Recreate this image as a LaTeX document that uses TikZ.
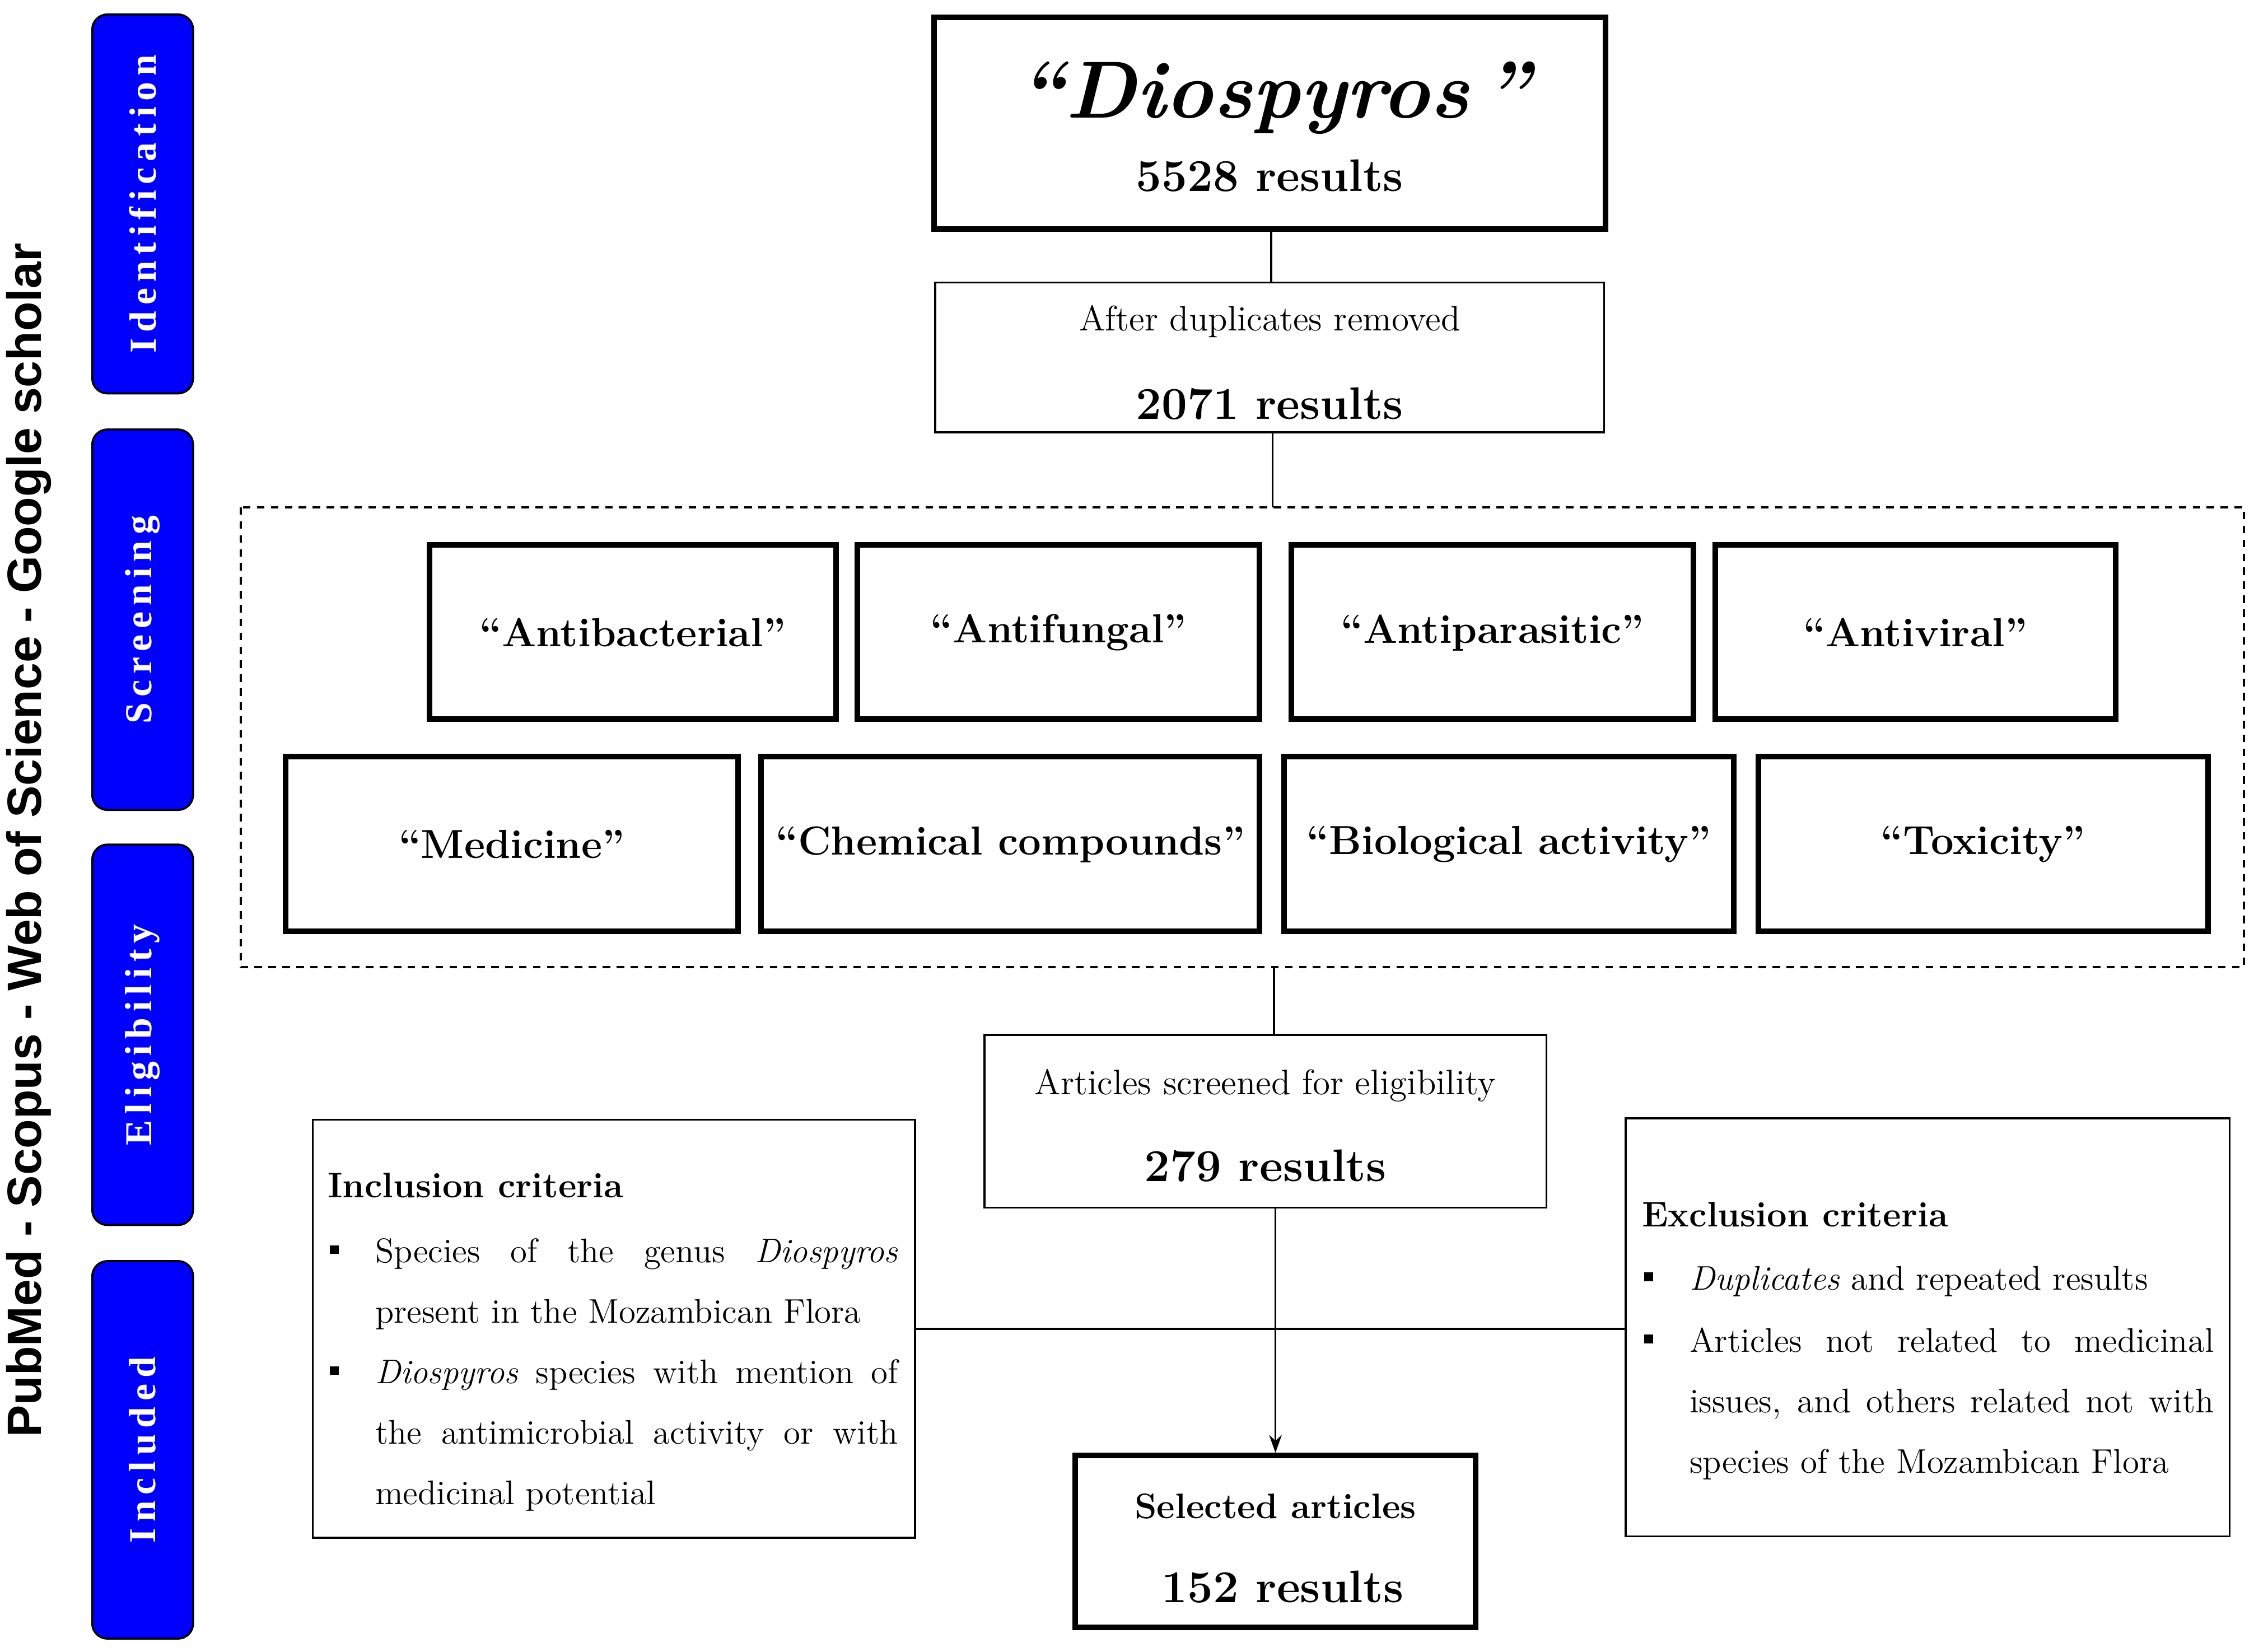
\documentclass[tikz,border=0pt]{standalone}
\usepackage{fontspec}
\usetikzlibrary{arrows.meta}
\newfontfamily\sans{Liberation Sans}
\newfontfamily\tabfont{Liberation Serif}[LetterSpace=16]
\begin{document}
\begin{tikzpicture}[x=0.02cm,y=-0.02cm,
  thick box/.style={draw,line width=2.2pt},
  thin box/.style={draw,line width=0.8pt},
  tab/.style={draw,line width=0.8pt,fill=blue,rounded corners=6pt},
  tabtxt/.style={rotate=90,text=white,font=\tabfont\fontsize{15}{18}\selectfont\bfseries},
  lbl/.style={font=\fontsize{16}{19}\selectfont\bfseries},
  body/.style={font=\fontsize{13.5}{16}\selectfont,anchor=base west,inner sep=0},
  res/.style={font=\fontsize{18}{21}\selectfont\bfseries},
  conn/.style={line width=0.8pt}]
\useasboundingbox (0,0) rectangle (1564,1146);
% side tabs
\foreach \a/\b/\t/\n in {10/273/Identification/t1,298/562/Screening/t2,586/850/Eligibility/t3,875/1137/Included/t4}{
  \draw[tab] (64,\a) rectangle (134,\b);
  \node[tabtxt] (\n) at (99,{(\a+\b)/2}) {\t};
}
\node[rotate=90,font=\fontsize{19}{22}\selectfont\sans\bfseries] (src) at (20,583) {PubMed - Scopus - Web of Science - Google scholar};
% top
\draw[thick box] (648,12) rectangle (1114,159);
\node[font=\fontsize{32}{36}\selectfont\bfseries\itshape] (dio) at (884,68) {“Diospyros\,”};
\node[res] (r1) at (881,122) {5528 results};
\coordinate (tb) at (882,159);
\draw[thin box] (649,196) rectangle (1113,300);
\coordinate (b2t) at (882,196); \coordinate (b2b) at (883,300);
\node[font=\fontsize{14}{16}\selectfont] (dup) at (881,223) {After duplicates removed};
\node[res] (r2) at (881,280) {2071 results};
\draw[conn] (tb) -- (b2t);
\coordinate (dt) at (883,352); \coordinate (db) at (884,671);
\draw[conn] (b2b) -- (dt);
\draw[line width=0.8pt,dash pattern=on 3pt off 2.5pt] (167,352) rectangle (1557,671);
% row 1
\foreach \x/\X/\t/\n in {298/580/“Antibacterial”/k1,595/874/“Antifungal”/k2,896/1175/“Antiparasitic”/k3,1190/1468/“Antiviral”/k4}{
  \draw[thick box] (\x,378) rectangle (\X,499);
  \node[lbl] (\n) at ({(\x+\X)/2},439) {\t};
}
\foreach \x/\X/\t/\n in {198/512/“Medicine”/m1,528/874/“Chemical compounds”/m2,891/1203/“Biological activity”/m3,1220/1532/“Toxicity”/m4}{
  \draw[thick box] (\x,525) rectangle (\X,646);
  \node[lbl] (\n) at ({(\x+\X)/2},586) {\t};
}
% eligibility
\draw[thin box] (683,718) rectangle (1073,838);
\coordinate (et) at (884,718); \coordinate (eb) at (885,838);
\draw[conn] (db) -- (et);
\node[font=\fontsize{14}{16}\selectfont] (asc) at (878,753) {Articles screened for eligibility};
\node[res] (r3) at (878,809) {279 results};
% selected
\draw[thick box] (746,1010) rectangle (1024,1129);
\coordinate (st) at (885,1008);
\node[font=\fontsize{14}{17}\selectfont\bfseries] (sel) at (885,1045) {Selected articles};
\node[res] (r4) at (890,1101) {152 results};
\draw[conn,-{Stealth[length=7pt,width=5pt]}] (eb) -- (st);
% criteria
\draw[thin box] (217,777) rectangle (635,1067);
\draw[thin box] (1128,776) rectangle (1547,1066);
\coordinate (il) at (635,922); \coordinate (ir) at (1128,922);
\draw[conn] (il) -- (ir);
\node[body,font=\fontsize{14}{17}\selectfont\bfseries] (inc) at (227,831) {Inclusion criteria};
\node[body] (i1) at (260,876) {\makebox[7.26cm][s]{Species of the genus \textit{Diospyros}}};
\node[body] (i2) at (260,918) {present in the Mozambican Flora};
\node[body] (i3) at (260,960) {\makebox[7.26cm][s]{\textit{Diospyros} species with mention of}};
\node[body] (i4) at (260,1002) {\makebox[7.26cm][s]{the antimicrobial activity or with}};
\node[body] (i5) at (260,1044) {medicinal potential};
\fill (229,864) rectangle +(6,6);
\fill (229,948) rectangle +(6,6);
\node[body,font=\fontsize{14}{17}\selectfont\bfseries] (exc) at (1139,851) {Exclusion criteria};
\node[body] (e1) at (1172,895) {\textit{Duplicates} and repeated results};
\node[body] (e2) at (1172,938) {\makebox[7.28cm][s]{Articles not related to medicinal}};
\node[body] (e3) at (1172,980) {\makebox[7.28cm][s]{issues, and others related not with}};
\node[body] (e4) at (1172,1022) {species of the Mozambican Flora};
\fill (1141,883) rectangle +(6,6);
\fill (1141,926) rectangle +(6,6);
\end{tikzpicture}
\end{document}
